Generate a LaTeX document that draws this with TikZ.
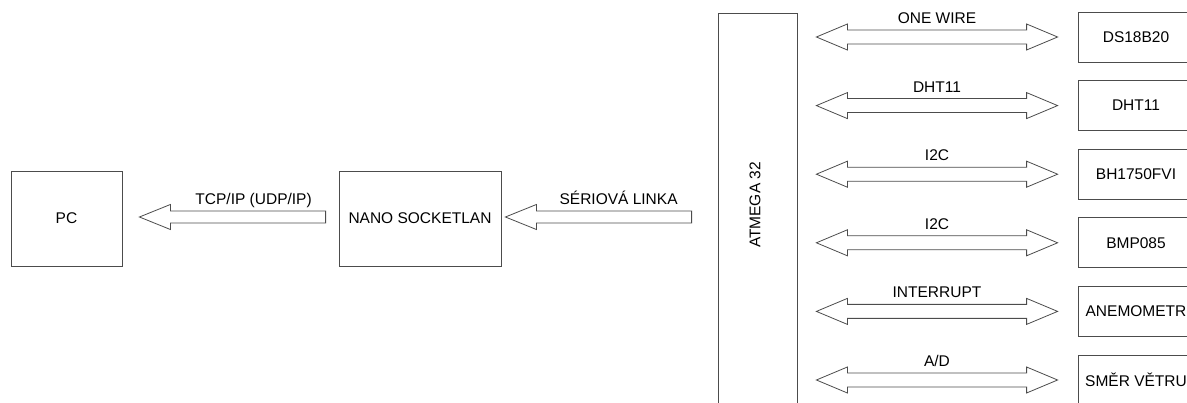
\documentclass[tikz,border=0pt]{standalone}
\usepackage{fontspec}
\setmainfont{Liberation Sans}
\usetikzlibrary{calc,positioning}

% hollow block arrow pointing left: #1 tail, #2 tip
\newcommand{\fatleft}[2]{%
\draw[blk] let \p1=(#1), \p2=(#2) in
 (\x1,\y1+6pt) -- (\x2+31pt,\y1+6pt) -- (\x2+31pt,\y1+12.5pt) -- (\x2,\y1)
 -- (\x2+31pt,\y1-12.5pt) -- (\x2+31pt,\y1-6pt) -- (\x1,\y1-6pt) -- cycle;}
% hollow block arrow with two heads: #1 left tip, #2 right tip
\newcommand{\fatboth}[2]{%
\draw[blk] let \p1=(#1), \p2=(#2) in
 (\x1,\y1) -- (\x1+31pt,\y1+13pt) -- (\x1+31pt,\y1+7pt) -- (\x2-31pt,\y1+7pt)
 -- (\x2-31pt,\y1+13pt) -- (\x2,\y1) -- (\x2-31pt,\y1-13pt) -- (\x2-31pt,\y1-7pt)
 -- (\x1+31pt,\y1-7pt) -- (\x1+31pt,\y1-13pt) -- cycle;}

\begin{document}
\begin{tikzpicture}[x=1pt,y=1pt,
  every node/.style={font=\fontsize{15.5}{18}\selectfont},
  box/.style={draw=black!70,line width=0.8pt,inner sep=0pt},
  blk/.style={draw=black!70,line width=0.8pt,line join=miter}]
\useasboundingbox (0,0) rectangle (1187,-403);
\clip (0,0) rectangle (1187,-403);

\node[box,minimum width=111,minimum height=95] (pc) at (66.5,-218.5) {PC};
\node[box,minimum width=162,minimum height=95] (nano) at (420,-218.5) {NANO SOCKETLAN};
\node[box,minimum width=79,minimum height=430,anchor=north] (atmega) at (757.5,-13) {};
\node[rotate=90] (atmegatxt) at ($(atmega.north)+(-2.5,-192)$) {ATMEGA 32};

% left part
\coordinate (tcptail) at ($(nano.west)+(-13,1.5)$);
\coordinate (tcptip) at ($(pc.east)+(17,1.5)$);
\fatleft{tcptail}{tcptip}
\node[anchor=base] (tcplbl) at ($(tcptail)+(-72,12.5)$) {TCP/IP (UDP/IP)};

\coordinate (sertail) at ($(atmega.west |- nano.west)+(-26,1.5)$);
\coordinate (sertip) at ($(nano.east)+(4,1.5)$);
\fatleft{sertail}{sertip}
\node[anchor=base] (serlbl) at ($(sertail)+(-73,12.5)$) {SÉRIOVÁ LINKA};

% sensors
\foreach \txt/\lbl [count=\i] in {DS18B20/ONE WIRE, DHT11/DHT11, BH1750FVI/I2C,
  BMP085/I2C, ANEMOMETR/INTERRUPT, SMĚR VĚTRU/{A/D}}{
  \node[box,minimum width=116,minimum height=50] (s\i) at (1136,{-37-68.6*(\i-1)}) {\txt};
  \coordinate (la\i) at ($(atmega.east |- s\i.west)+(19,0)$);
  \coordinate (ra\i) at ($(s\i.west)+(-20,0)$);
  \fatboth{la\i}{ra\i}
  \node[anchor=base] (l\i) at ($(la\i)!0.5!(ra\i)+(0,13.5)$) {\lbl};
}
\end{tikzpicture}
\end{document}
